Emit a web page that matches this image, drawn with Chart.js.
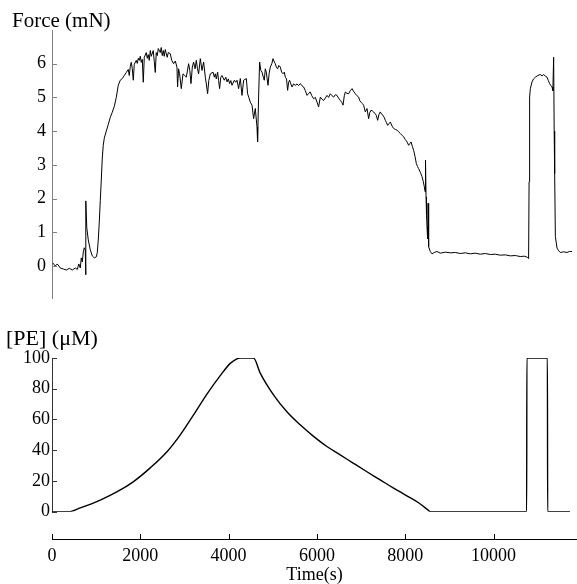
<!DOCTYPE html>
<html>
<head>
<meta charset="utf-8">
<script src="https://cdn.jsdelivr.net/npm/chart.js@4.4.1/dist/chart.umd.min.js"></script>
<style>
  body { margin: 0; background: #fff; }
  #wrap { position: relative; width: 577px; height: 584px; overflow: hidden; background: #fff; }
  canvas { position: absolute; left: 0; }
</style>
</head>
<body>
<div id="wrap">
  <canvas id="forceChart" width="577" height="300" style="top:0px"></canvas>
  <canvas id="peChart" width="577" height="230" style="top:300px"></canvas>
  <canvas id="timeAxis" width="577" height="64" style="top:520px"></canvas>
</div>
<script>
// force trace, time in s
const forceTime = [
  18,75,120,188,256,324,392,460,527,573,
  607,641,663,686,709,731,754,761,770,788,
  822,867,912,958,1003,1025,1048,1071,1094,1116,
  1139,1161,1184,1229,1275,1320,1365,1410,1456,1501,
  1546,1592,1637,1682,1727,1750,1773,1795,1818,1841,
  1863,1909,1931,1954,1977,1999,2022,2045,2067,2090,
  2135,2158,2180,2203,2226,2248,2293,2316,2339,2361,
  2384,2407,2452,2474,2497,2520,2542,2565,2588,2610,
  2633,2678,2712,2754,2792,2830,2844,2867,2890,2928,
  2967,3007,3042,3094,3121,3148,3178,3207,3241,3268,
  3295,3320,3359,3397,3434,3472,3495,3524,3551,3585,
  3647,3676,3699,3721,3751,3773,3796,3823,3850,3902,
  3936,3964,3993,4023,4050,4077,4129,4163,4190,4226,
  4265,4303,4340,4401,4430,4457,4491,4530,4566,4604,
  4643,4656,4679,4702,4729,4756,4786,4808,4831,4853,
  4892,4917,4944,4978,5005,5035,5058,5080,5110,5137,
  5171,5200,5232,5262,5284,5311,5336,5359,5381,5409,
  5436,5472,5511,5549,5585,5624,5658,5699,5737,5776,
  5812,5850,5884,5925,5964,6002,6038,6077,6111,6152,
  6190,6229,6265,6303,6342,6378,6417,6455,6491,6530,
  6564,6591,6620,6643,6681,6718,6756,6795,6831,6870,
  6908,6944,6971,6998,7028,7057,7096,7134,7171,7198,
  7225,7255,7284,7316,7345,7375,7406,7436,7466,7497,
  7526,7549,7576,7601,7631,7662,7701,7737,7776,7814,
  7850,7889,7927,7964,8002,8041,8077,8104,8131,8161,
  8190,8222,8251,8278,8303,8341,8380,8409,8432,8450,
  8459,8471,8482,8493,8507,8518,8530,8568,8606,8658,
  8719,8795,8908,9021,9134,9247,9361,9474,9587,9700,
  9813,9927,10040,10153,10266,10379,10492,10605,10696,10764,
  10794,10805,10817,10833,10871,10907,10946,11002,11059,11098,
  11135,11173,11212,11241,11270,11298,11325,11343,11361,11373,
  11384,11400,11438,11475,11513,11588,11665,11717,11778
];
// force in mN
const forceValue = [
  0.09,0.00,0.06,-0.06,-0.09,-0.12,-0.07,-0.12,-0.06,-0.10,
  0.06,-0.06,0.24,0.12,0.42,0.54,0.48,-0.26,1.93,1.13,
  0.77,0.48,0.30,0.24,0.27,0.39,0.77,1.30,1.95,2.55,
  3.20,3.58,3.79,4.00,4.20,4.41,4.56,4.73,5.00,5.36,
  5.51,5.56,5.65,5.74,5.83,5.65,5.92,6.04,5.86,5.51,
  5.98,6.10,6.01,6.16,6.10,6.22,6.04,6.13,5.45,6.19,
  6.33,6.16,6.27,6.10,6.39,6.22,6.39,6.07,5.74,6.33,
  6.24,6.45,6.33,6.48,6.24,6.39,6.22,6.42,6.30,6.19,
  6.33,6.30,6.10,6.00,6.08,5.90,5.31,5.85,5.70,5.26,
  5.70,5.65,5.60,6.00,5.80,5.41,5.90,6.05,5.85,6.10,
  5.85,5.70,6.15,5.80,6.05,5.60,5.40,5.11,5.50,5.70,
  5.75,5.60,5.70,5.55,5.75,5.50,5.26,5.60,5.65,5.51,
  5.60,5.46,5.55,5.41,5.50,5.36,5.51,5.45,5.51,5.26,
  5.56,5.06,5.51,5.56,5.11,5.00,4.86,4.77,4.37,4.67,
  4.12,3.68,5.01,6.05,5.80,5.75,5.60,5.51,5.85,5.75,
  5.36,5.70,5.90,6.00,6.15,6.05,6.00,5.90,5.85,5.95,
  5.90,5.75,5.70,5.75,5.60,5.55,5.21,5.45,5.51,5.40,
  5.31,5.40,5.36,5.40,5.35,5.41,5.35,5.31,5.20,5.06,
  5.12,5.16,5.05,4.96,5.00,4.86,4.72,5.01,4.95,4.91,
  4.98,5.06,5.00,5.11,5.05,5.01,5.08,5.06,4.98,4.91,
  4.85,4.77,5.05,5.16,5.12,5.11,5.20,5.26,5.18,5.11,
  5.05,5.01,4.90,4.86,4.82,4.77,4.57,4.67,4.37,4.55,
  4.62,4.60,4.57,4.52,4.47,4.32,4.50,4.57,4.50,4.47,
  4.40,4.32,4.25,4.17,4.22,4.27,4.15,4.08,4.05,4.03,
  3.98,3.93,3.88,3.83,3.75,3.68,3.58,3.63,3.68,3.55,
  3.43,3.25,3.04,2.95,2.89,2.78,2.65,2.50,2.35,2.20,
  3.14,2.05,1.50,1.17,0.80,1.86,0.57,0.43,0.36,0.40,
  0.43,0.38,0.41,0.39,0.40,0.37,0.39,0.36,0.38,0.35,
  0.37,0.34,0.35,0.32,0.33,0.30,0.31,0.28,0.29,0.26,
  0.22,2.50,5.01,5.26,5.46,5.55,5.60,5.65,5.68,5.64,
  5.68,5.63,5.60,5.50,5.41,5.35,5.31,5.20,6.19,4.00,
  2.74,0.87,0.53,0.45,0.40,0.42,0.40,0.43,0.43
];

// phenylephrine concentration
const peTime  = [0,376,640,1094,1478,1847,2225,2604,2905,3206,3509,3810,4037,4188,4263,4564,
                 4716,5017,5320,5621,5923,6226,6527,6828,7132,7433,7727,7998,8293,8520,8565,
                 10750,10755,11220,11225,11730];
const peValue = [0,0,2.5,7.6,13,19.6,28.5,39,50,63,76.5,88.5,96.5,99.5,100,100,
                 90.2,76,65,56.5,49,42.4,37,31.5,26,20.7,15.5,11,6,1,0,
                 0,100,100,0,0];

const forceTicks = [0, 1, 2, 3, 4, 5, 6];
const peTicks = [0, 10, 20, 30, 40, 50, 60, 70, 80, 90, 100];
const timeTicks = [0, 2000, 4000, 6000, 8000, 10000];

const X_MIN = 0, X_MAX = 11890;

Chart.defaults.font.family = "'Liberation Serif', 'Times New Roman', serif";
Chart.defaults.font.size = 18;
Chart.defaults.color = '#000';
Chart.defaults.animation = false;
Chart.defaults.plugins.legend.display = false;
Chart.defaults.plugins.tooltip.enabled = false;

// small tick marks pointing into the plot
const innerTicks = {
  id: 'innerTicks',
  afterDraw(chart, args, opts) {
    const ctx = chart.ctx, area = chart.chartArea;
    ctx.save();
    ctx.strokeStyle = opts.color || '#000';
    ctx.lineWidth = 1;
    Object.values(chart.scales).forEach(s => {
      if (!s.options.display) return;
      s.ticks.forEach(t => {
        const p = Math.round(s.getPixelForValue(t.value)) + 0.5;
        ctx.beginPath();
        if (s.isHorizontal()) {
          ctx.moveTo(p, area.bottom);
          ctx.lineTo(p, area.bottom - 5);
        } else {
          ctx.moveTo(area.left, p);
          ctx.lineTo(area.left + 5, p);
        }
        ctx.stroke();
      });
    });
    ctx.restore();
  }
};

function fixTicks(list) {
  return s => { s.ticks = list.map(v => ({ value: v })); };
}

const hiddenX = { type: 'linear', min: X_MIN, max: X_MAX, display: false };
const noGrid = { display: true, drawOnChartArea: false, drawTicks: false };

new Chart(document.getElementById('forceChart'), {
  type: 'line',
  data: {
    datasets: [{
      data: forceTime.map((t, i) => ({ x: t, y: forceValue[i] })),
      borderColor: '#000',
      borderWidth: 1,
      pointRadius: 0,
      tension: 0
    }]
  },
  options: {
    responsive: false,
    layout: { padding: { left: 12, right: 0, top: 0, bottom: 2 } },
    plugins: {
      title: { display: true, text: 'Force (mN)', align: 'start', color: '#000',
               font: { size: 21, weight: 'normal', lineHeight: 1.2 }, padding: { top: 8.4, bottom: -3.6 } },
      innerTicks: { color: '#808080' }
    },
    scales: {
      x: hiddenX,
      y: {
        type: 'linear', min: -0.95, max: 7,
        afterBuildTicks: fixTicks(forceTicks),
        afterFit: s => { s.width = 40; s.paddingTop = 0; s.paddingBottom = 0; },
        grid: noGrid,
        border: { display: true, color: '#808080', width: 1 },
        ticks: { padding: 6, callback: v => String(v) }
      }
    }
  },
  plugins: [innerTicks]
});

new Chart(document.getElementById('peChart'), {
  type: 'line',
  data: {
    datasets: [{
      data: peTime.map((t, i) => ({ x: t, y: peValue[i] })),
      borderColor: '#000',
      borderWidth: 1.4,
      pointRadius: 0,
      cubicInterpolationMode: 'monotone'
    }]
  },
  options: {
    responsive: false,
    layout: { padding: { left: 6, right: 0, top: 0, bottom: 18.3 } },
    plugins: {
      title: { display: true, text: '[PE] (\u03bcM)', align: 'start', color: '#000',
               font: { size: 22, weight: 'normal', lineHeight: 1.2 }, padding: { top: 25.8, bottom: 5.8 } },
      innerTicks: { color: '#333' }
    },
    scales: {
      x: hiddenX,
      y: {
        type: 'linear', min: 0, max: 100,
        afterBuildTicks: fixTicks(peTicks),
        afterFit: s => { s.width = 46; s.paddingTop = 0; s.paddingBottom = 0; },
        grid: noGrid,
        border: { display: true, color: '#333', width: 1 },
        ticks: { padding: 2, callback: v => (v % 20 === 0 ? String(v) : '') }
      }
    }
  },
  plugins: [innerTicks]
});

new Chart(document.getElementById('timeAxis'), {
  type: 'line',
  data: { datasets: [] },
  options: {
    responsive: false,
    layout: { padding: { left: 52, right: 0, top: 0, bottom: 0 } },
    plugins: { innerTicks: { color: '#000' } },
    scales: {
      x: {
        type: 'linear', min: X_MIN, max: X_MAX, position: 'bottom',
        afterBuildTicks: fixTicks(timeTicks),
        afterFit: s => { s.height = 45; },
        grid: noGrid,
        border: { display: true, color: '#000', width: 1 },
        ticks: { padding: 6, maxRotation: 0, callback: v => String(v) },
        title: { display: true, text: 'Time(s)', color: '#000', font: { size: 18 }, padding: { top: 0, bottom: -2 } }
      },
      y: { type: 'linear', display: false }
    }
  },
  plugins: [innerTicks]
});
</script>
</body>
</html>
